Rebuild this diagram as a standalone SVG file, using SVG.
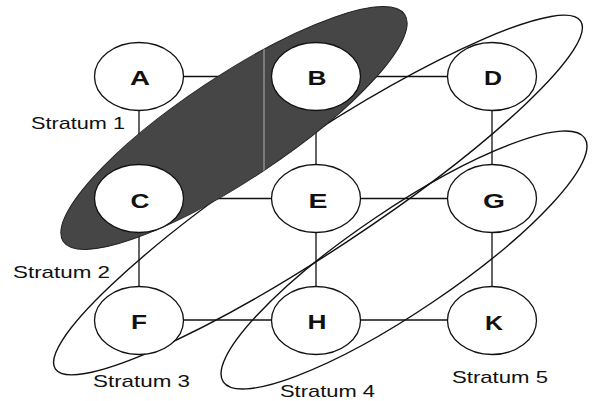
<svg xmlns="http://www.w3.org/2000/svg" width="592" height="401" viewBox="0 0 592 401">
<style>
.edge{stroke:#111;stroke-width:1.3;fill:none}
.stratum{stroke:#111;stroke-width:1.4;fill:none}
.node{fill:#fff;stroke:#111;stroke-width:1.3}
.lbl{font-family:"Liberation Sans",Arial,sans-serif;font-weight:bold;font-size:21px;fill:#111;text-anchor:middle}
.st{font-family:"Liberation Sans",Arial,sans-serif;font-size:17px;fill:#111}
</style>
<defs>
<clipPath id="darkclip"><ellipse cx="234" cy="128" rx="205" ry="52" transform="rotate(-33.6 234 128)"/></clipPath>
</defs>
<rect width="592" height="401" fill="#fff"/>
<g id="connectors">
<line class="edge" x1="183" y1="76.5" x2="272" y2="76.5"/>
<line class="edge" x1="360" y1="76.5" x2="448" y2="76.5"/>
<line class="edge" x1="183" y1="198.5" x2="272" y2="198.5"/>
<line class="edge" x1="360" y1="198.5" x2="448" y2="198.5"/>
<line class="edge" x1="183" y1="320" x2="272" y2="320"/>
<line class="edge" x1="360" y1="320" x2="448" y2="320"/>
<line class="edge" x1="139" y1="110" x2="139" y2="165"/>
<line class="edge" x1="139" y1="232" x2="139" y2="287"/>
<line class="edge" x1="316" y1="110" x2="316" y2="165"/>
<line class="edge" x1="316" y1="232" x2="316" y2="287"/>
<line class="edge" x1="492" y1="110" x2="492" y2="165"/>
<line class="edge" x1="492" y1="232" x2="492" y2="287"/>
</g>
<g id="strata">
<ellipse class="stratum" cx="318" cy="195" rx="315" ry="55" transform="rotate(-33.5 318 195)"/>
<ellipse class="stratum" cx="404" cy="260" rx="218" ry="51" transform="rotate(-34 404 260)"/>
</g>
<g id="stratum-dark">
<ellipse cx="234" cy="128" rx="205" ry="52" transform="rotate(-33.6 234 128)" fill="#464646" stroke="#222" stroke-width="1"/>
<line x1="264" y1="0" x2="264" y2="260" stroke="#b0b0b0" stroke-width="1" clip-path="url(#darkclip)"/>
</g>
<g id="node-A"><ellipse class="node" cx="139" cy="76.5" rx="44.5" ry="34"/><text class="lbl" x="140" y="85" textLength="20" lengthAdjust="spacingAndGlyphs">A</text></g>
<g id="node-B"><ellipse class="node" cx="316" cy="76.5" rx="44.5" ry="34"/><text class="lbl" x="317" y="85" textLength="19" lengthAdjust="spacingAndGlyphs">B</text></g>
<g id="node-D"><ellipse class="node" cx="492" cy="76.5" rx="44.5" ry="34"/><text class="lbl" x="493" y="85" textLength="18" lengthAdjust="spacingAndGlyphs">D</text></g>
<g id="node-C"><ellipse class="node" cx="139" cy="198.5" rx="44.5" ry="34"/><text class="lbl" x="140" y="207.5" textLength="19" lengthAdjust="spacingAndGlyphs">C</text></g>
<g id="node-E"><ellipse class="node" cx="316" cy="198.5" rx="44.5" ry="34"/><text class="lbl" x="318" y="207.5" textLength="19" lengthAdjust="spacingAndGlyphs">E</text></g>
<g id="node-G"><ellipse class="node" cx="492" cy="198.5" rx="44.5" ry="34"/><text class="lbl" x="494" y="207.5" textLength="22" lengthAdjust="spacingAndGlyphs">G</text></g>
<g id="node-F"><ellipse class="node" cx="139" cy="320.5" rx="44.5" ry="34"/><text class="lbl" x="139" y="328.5" textLength="16" lengthAdjust="spacingAndGlyphs">F</text></g>
<g id="node-H"><ellipse class="node" cx="316" cy="320.5" rx="44.5" ry="34"/><text class="lbl" x="317" y="329" textLength="19" lengthAdjust="spacingAndGlyphs">H</text></g>
<g id="node-K"><ellipse class="node" cx="492" cy="320.5" rx="44.5" ry="34"/><text class="lbl" x="494" y="329.5" textLength="18" lengthAdjust="spacingAndGlyphs">K</text></g>
<g id="labels">
<text class="st" x="31" y="129" textLength="94" lengthAdjust="spacingAndGlyphs">Stratum 1</text>
<text class="st" x="13" y="278" textLength="97" lengthAdjust="spacingAndGlyphs">Stratum 2</text>
<text class="st" x="93" y="387" textLength="97" lengthAdjust="spacingAndGlyphs">Stratum 3</text>
<text class="st" x="280" y="397" textLength="95" lengthAdjust="spacingAndGlyphs">Stratum 4</text>
<text class="st" x="452" y="383" textLength="96" lengthAdjust="spacingAndGlyphs">Stratum 5</text>
</g>
</svg>
